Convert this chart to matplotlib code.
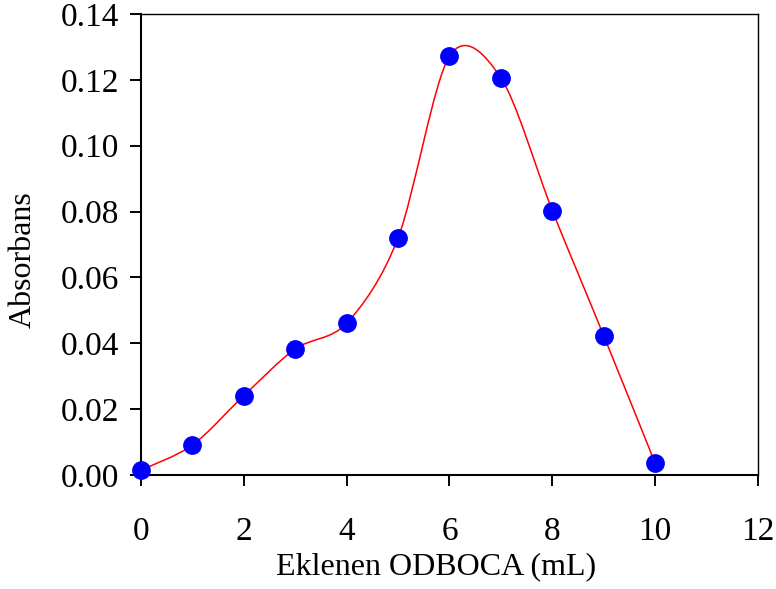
import numpy as np
import matplotlib
matplotlib.use("Agg")
import matplotlib.pyplot as plt
from matplotlib.path import Path
from matplotlib.patches import PathPatch

# Eklenen ODBOCA hacmi (mL) ve absorbans degerleri
hacim = [0, 1, 2, 3, 4, 5, 6, 7, 8, 9, 10]
absorbans = [0.0015, 0.0091, 0.0241, 0.0383, 0.0461, 0.0720, 0.1272, 0.1206, 0.0803, 0.0423, 0.0036]

x_ticks = [0, 2, 4, 6, 8, 10, 12]
y_ticks = [0.00, 0.02, 0.04, 0.06, 0.08, 0.10, 0.12, 0.14]

plt.rcParams['font.family'] = ['Liberation Serif', 'DejaVu Serif']

fig = plt.figure(figsize=(7.76, 5.89), dpi=100)
ax = fig.add_axes([0.1817, 0.1935, 0.7951, 0.7827])


def excel_smooth_path(xs, ys, k=6.5):
    # Excel tarzi yumusak cizgi: Catmull-Rom kontrol noktalari ile Bezier
    pts = np.column_stack([xs, ys]).astype(float)
    n = len(pts)
    verts = [pts[0]]
    codes = [Path.MOVETO]
    for i in range(n - 1):
        p0 = pts[i - 1] if i > 0 else pts[i]
        p1 = pts[i]
        p2 = pts[i + 1]
        p3 = pts[i + 2] if i + 2 < n else pts[i + 1]
        c1 = p1 + (p2 - p0) / k
        c2 = p2 - (p3 - p1) / k
        verts += [c1, c2, p2]
        codes += [Path.CURVE4] * 3
    return Path(verts, codes)


ax.add_patch(PathPatch(excel_smooth_path(hacim, absorbans), facecolor='none',
                       edgecolor='#ff0000', lw=1.1, zorder=2))
ax.plot(hacim, absorbans, 'o', color='#0000ff', markersize=12.5, zorder=3,
        clip_on=False)

ax.set_xlim(0, 12)
ax.set_ylim(0, 0.14)
ax.set_xticks(x_ticks)
ax.set_yticks(y_ticks)
ax.set_xticklabels([str(v) for v in x_ticks])
ax.set_yticklabels([f"{v:.2f}" for v in y_ticks])

ax.tick_params(axis='both', direction='out', labelsize=24, width=1.4, color='black')
ax.tick_params(axis='x', length=8, pad=22)
ax.tick_params(axis='y', length=8, pad=8)

ax.spines['left'].set_linewidth(1.5)
ax.spines['bottom'].set_linewidth(1.5)
ax.spines['top'].set_linewidth(1.0)
ax.spines['right'].set_linewidth(1.0)

ax.set_xlabel('Eklenen ODBOCA (mL)', fontsize=23, va='center')
ax.set_ylabel('Absorbans', fontsize=23, va='center')
ax.xaxis.set_label_coords(0.478, -0.1996)
ax.yaxis.set_label_coords(-0.191, 0.4675)

fig.savefig('out.png', dpi=100)
